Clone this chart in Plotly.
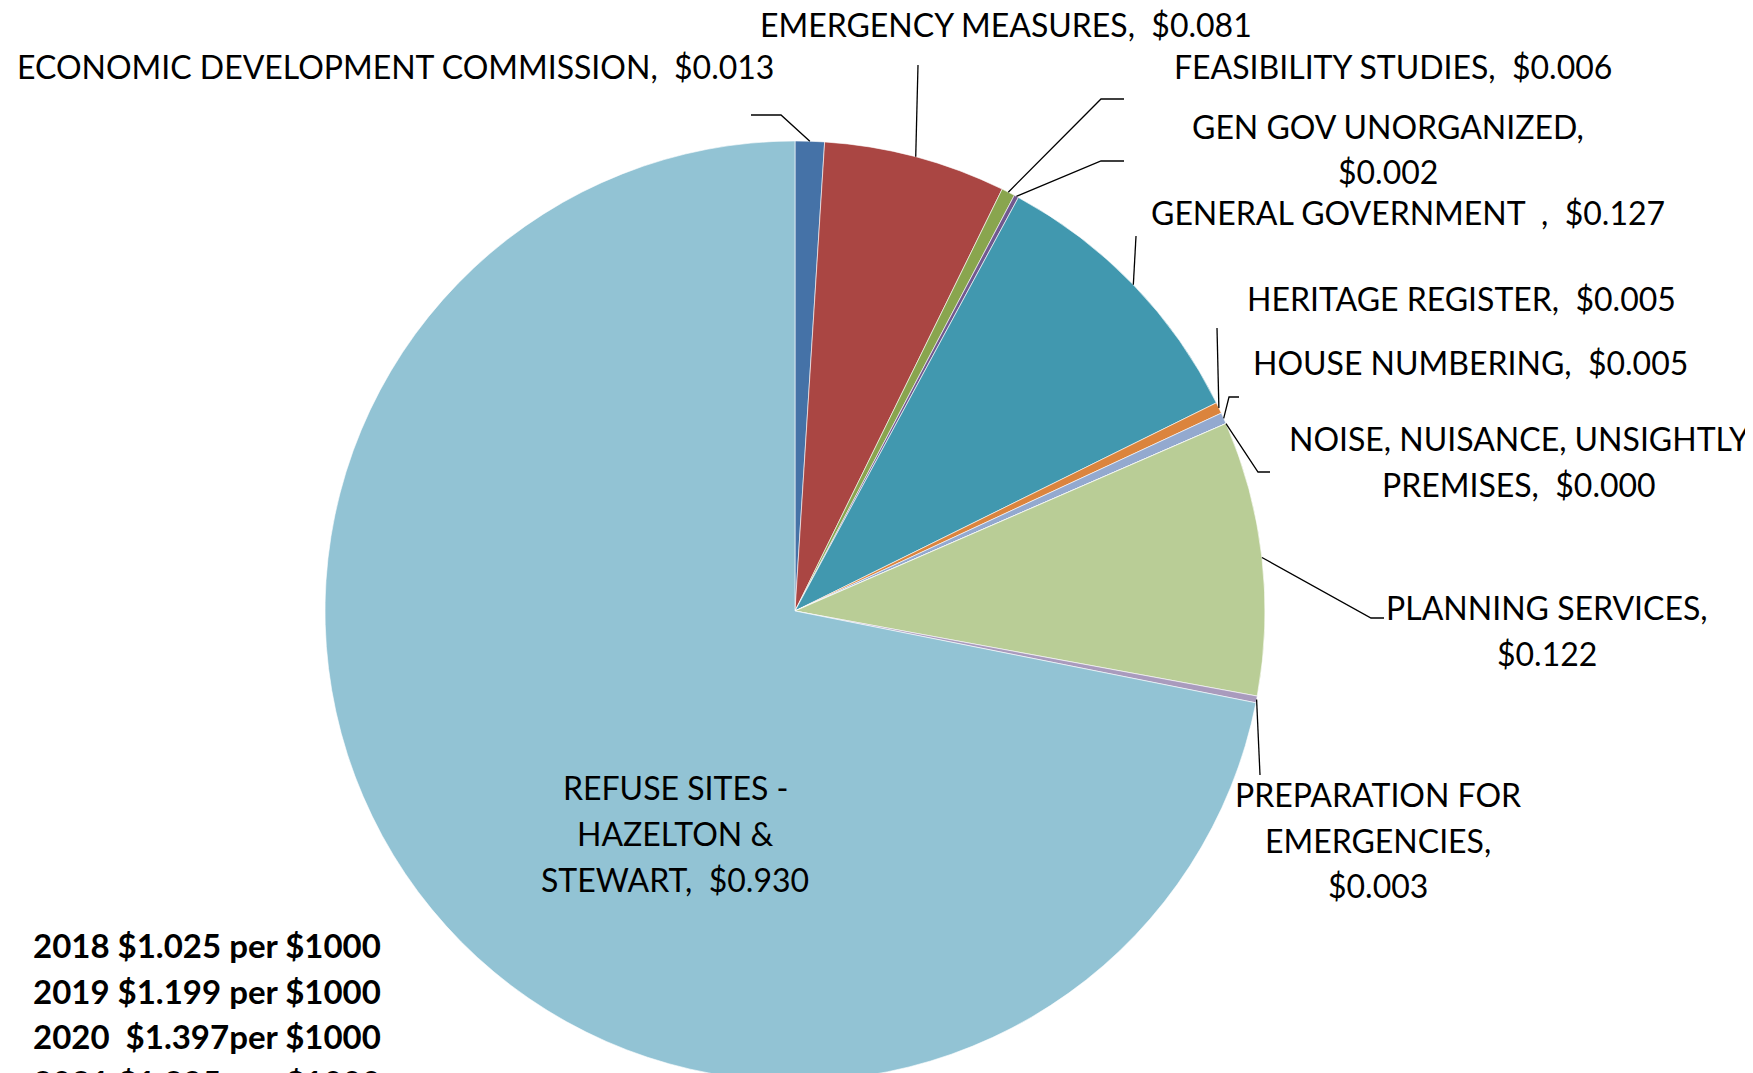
import math
import plotly.graph_objects as go

W, H = 1753, 1073

categories = ["ECONOMIC DEVELOPMENT COMMISSION", "EMERGENCY MEASURES", "FEASIBILITY STUDIES",
              "GEN GOV UNORGANIZED", "GENERAL GOVERNMENT  ", "HERITAGE REGISTER", "HOUSE NUMBERING",
              "NOISE, NUISANCE, UNSIGHTLY PREMISES", "PLANNING SERVICES", "PREPARATION FOR EMERGENCIES",
              "REFUSE SITES - HAZELTON & STEWART"]
values = [0.013, 0.081, 0.006, 0.002, 0.127, 0.005, 0.005, 0.000, 0.122, 0.003, 0.930]
colors = ["#4572A7", "#AA4643", "#89A54E", "#71588F", "#4198AF", "#DB843D", "#93A9CF",
          "#D19392", "#B9CD96", "#A99BBD", "#92C3D4"]

label_lines = [
    ["ECONOMIC DEVELOPMENT COMMISSION,  $0.013"],
    ["EMERGENCY MEASURES,  $0.081"],
    ["FEASIBILITY STUDIES,  $0.006"],
    ["GEN GOV UNORGANIZED,", "$0.002"],
    ["GENERAL GOVERNMENT  ,  $0.127"],
    ["HERITAGE REGISTER,  $0.005"],
    ["HOUSE NUMBERING,  $0.005"],
    ["NOISE, NUISANCE, UNSIGHTLY", "PREMISES,  $0.000"],
    ["PLANNING SERVICES,", "$0.122"],
    ["PREPARATION FOR", "EMERGENCIES,", "$0.003"],
    ["REFUSE SITES -", "HAZELTON &", "STEWART,  $0.930"],
]
rate_lines = ["2018 $1.025 per $1000", "2019 $1.199 per $1000",
              "2020  $1.397per $1000", "2021 $1.295 per $1000"]

# ---- layout (page pixels; the page body has an 8px margin) ----
OFF = 8
CX, R = 795, 470
CY = H - R + OFF
dom_y = [0, 2 * R / H]
dom_x = [(CX - OFF - R - 10) / W, (CX - OFF + R + 10) / W]

label_pos = [(395, 67), (1006, 24), (1393, 66), (1388, 126), (1408, 212), (1461, 298),
             (1470, 362), (1519, 438), (1547, 607), (1378, 794), (675, 787)]
leaders = [((781, 115), (751, 115)), ((918, 65), (918, 65)), ((1101, 99), (1124, 99)),
           ((1101, 161), (1124, 161)), ((1136, 236), (1136, 236)), ((1217, 328), (1217, 328)),
           ((1229, 397), (1239, 397)), ((1258, 472), (1270, 472)), ((1371, 618), (1384, 618)),
           ((1260, 775), (1260, 775)), None]
LINE_H = 46
FONT = "Lato"
FS = 32
FS_B = 33

def px(x, y):
    return (x - OFF) / W, 1 - (y - OFF) / H

fig = go.Figure(go.Pie(
    labels=categories, values=values, sort=False, direction="clockwise", rotation=0,
    marker=dict(colors=colors, line=dict(color="white", width=0.6)),
    textinfo="none", hoverinfo="label+value", domain=dict(x=dom_x, y=dom_y),
    showlegend=False,
))

total = sum(values)
cum = 0.0
shapes = []
annotations = []
for i, v in enumerate(values):
    mid = (cum + v / 2) / total * 2 * math.pi
    cum += v
    sx = CX + R * math.sin(mid)
    sy = CY - R * math.cos(mid)
    if leaders[i] is not None:
        (ex, ey), (tx, ty) = leaders[i]
        p0, p1, p2 = px(sx, sy), px(ex, ey), px(tx, ty)
        shapes.append(dict(type="path", xref="paper", yref="paper",
                           path=f"M {p0[0]},{p0[1]} L {p1[0]},{p1[1]} L {p2[0]},{p2[1]}",
                           line=dict(color="black", width=1.3)))
    lx, ly = label_pos[i]
    for k, t in enumerate(label_lines[i]):
        x, y = px(lx, ly + k * LINE_H)
        annotations.append(dict(text=t, x=x, y=y, xref="paper", yref="paper",
                                xanchor="center", yanchor="middle", showarrow=False,
                                font=dict(family=FONT, size=FS, color="black")))

for k, t in enumerate(rate_lines):
    x, y = px(31, 945 + k * 45.7)
    annotations.append(dict(text="<b>" + t + "</b>", x=x, y=y, xref="paper", yref="paper",
                            xanchor="left", yanchor="middle", showarrow=False,
                            font=dict(family=FONT, size=FS_B, color="black")))

fig.update_layout(width=W, height=H, margin=dict(l=0, r=0, t=0, b=0),
                  paper_bgcolor="white", plot_bgcolor="white",
                  shapes=shapes, annotations=annotations)
fig.write_html("out.html")
